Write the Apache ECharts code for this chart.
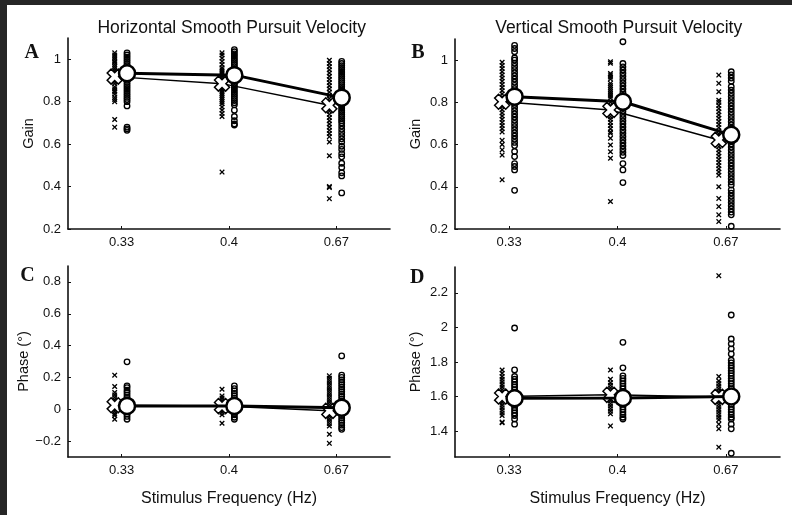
<!DOCTYPE html>
<html><head><meta charset="utf-8">
<script src="https://cdn.jsdelivr.net/npm/echarts@6/dist/echarts.min.js"></script>
<style>html,body{margin:0;padding:0;background:#fff}#c{width:792px;height:515px}</style>
</head><body><div id="c"></div><script>
const categories = ['0.33', '0.4', '0.67'];
const gainTicks = [0.2, 0.4, 0.6, 0.8, 1];
const hPhaseTicks = [-0.2, 0, 0.2, 0.4, 0.6, 0.8];
const vPhaseTicks = [1.4, 1.6, 1.8, 2, 2.2];

// Panel A: horizontal gain
const hGainCross = [
  [1.03,1.02,1.01,1.0,0.99,0.985,0.975,0.965,0.955,0.945,0.935,0.925,0.915,0.905,0.895,0.885,0.87,0.86,0.85,0.845,0.835,0.82,0.81,0.80,0.716,0.68],
  [1.03,1.02,1.005,0.99,0.975,0.96,0.95,0.94,0.93,0.92,0.91,0.9,0.89,0.88,0.87,0.86,0.85,0.84,0.83,0.82,0.81,0.80,0.79,0.775,0.76,0.745,0.73,0.468],
  [0.995,0.98,0.965,0.95,0.935,0.92,0.905,0.89,0.875,0.86,0.845,0.83,0.815,0.80,0.785,0.77,0.755,0.74,0.725,0.71,0.695,0.68,0.665,0.65,0.635,0.61,0.545,0.40,0.395,0.343]
];
const hGainCircle = [
  [1.03,1.02,1.01,1.0,0.99,0.98,0.97,0.96,0.95,0.94,0.93,0.92,0.91,0.90,0.89,0.88,0.87,0.86,0.85,0.84,0.83,0.82,0.81,0.80,0.78,0.68,0.672,0.665],
  [1.045,1.035,1.025,1.015,1.005,0.995,0.985,0.975,0.965,0.955,0.945,0.935,0.925,0.915,0.905,0.895,0.885,0.875,0.865,0.855,0.845,0.835,0.825,0.815,0.805,0.795,0.785,0.76,0.73,0.71,0.695,0.69],
  [0.99,0.98,0.97,0.96,0.95,0.94,0.93,0.92,0.91,0.90,0.89,0.88,0.87,0.86,0.85,0.84,0.83,0.82,0.81,0.80,0.79,0.78,0.77,0.76,0.75,0.74,0.73,0.72,0.71,0.70,0.685,0.67,0.655,0.64,0.625,0.61,0.59,0.575,0.555,0.54,0.51,0.49,0.465,0.45,0.37]
];
const hGainCrossMean = [0.918, 0.885, 0.783];
const hGainCircleMean = [0.934, 0.925, 0.819];

// Panel B: vertical gain
const vGainCross = [
  [0.99,0.975,0.96,0.945,0.93,0.915,0.9,0.885,0.87,0.855,0.84,0.825,0.81,0.795,0.78,0.765,0.75,0.735,0.72,0.705,0.69,0.675,0.66,0.62,0.60,0.575,0.55,0.433],
  [0.992,0.985,0.937,0.93,0.92,0.91,0.89,0.88,0.87,0.86,0.85,0.84,0.83,0.82,0.80,0.785,0.77,0.76,0.745,0.732,0.72,0.705,0.69,0.675,0.66,0.653,0.63,0.598,0.566,0.535,0.33],
  [0.929,0.89,0.85,0.81,0.80,0.785,0.77,0.755,0.74,0.725,0.71,0.695,0.68,0.665,0.65,0.637,0.62,0.605,0.59,0.575,0.56,0.545,0.53,0.515,0.50,0.485,0.47,0.455,0.40,0.345,0.306,0.267,0.235]
];
const vGainCircle = [
  [1.07,1.055,1.04,1.01,1.0,0.985,0.97,0.955,0.94,0.925,0.91,0.895,0.88,0.865,0.85,0.835,0.82,0.805,0.79,0.775,0.76,0.745,0.73,0.715,0.70,0.685,0.67,0.655,0.64,0.625,0.61,0.595,0.567,0.543,0.51,0.496,0.48,0.383],
  [1.087,0.984,0.968,0.953,0.938,0.923,0.908,0.893,0.878,0.863,0.848,0.833,0.818,0.803,0.788,0.773,0.758,0.743,0.728,0.713,0.698,0.683,0.668,0.653,0.638,0.623,0.608,0.593,0.578,0.563,0.548,0.51,0.48,0.42],
  [0.945,0.93,0.915,0.9,0.874,0.858,0.843,0.828,0.813,0.798,0.783,0.768,0.753,0.738,0.723,0.708,0.693,0.678,0.663,0.648,0.633,0.618,0.603,0.588,0.573,0.558,0.543,0.528,0.513,0.498,0.483,0.468,0.453,0.438,0.423,0.408,0.385,0.37,0.355,0.34,0.325,0.31,0.295,0.28,0.267,0.213]
];
const vGainCrossMean = [0.803, 0.764, 0.622];
const vGainCircleMean = [0.827, 0.803, 0.646];

// Panel C: horizontal phase
const hPhaseCross = [
  [0.214,0.143,0.105,0.09,0.075,0.06,0.045,0.03,0.015,0.0,-0.015,-0.03,-0.04,-0.063],
  [0.126,0.084,0.07,0.055,0.04,0.025,0.01,-0.005,-0.02,-0.035,-0.088],
  [0.21,0.195,0.18,0.165,0.15,0.135,0.12,0.105,0.09,0.075,0.06,0.045,0.03,0.015,0.0,-0.015,-0.03,-0.045,-0.06,-0.075,-0.09,-0.105,-0.157,-0.214]
];
const hPhaseCircle = [
  [0.298,0.147,0.136,0.12,0.105,0.09,0.075,0.06,0.045,0.03,0.015,0.0,-0.015,-0.03,-0.045,-0.063],
  [0.147,0.13,0.115,0.1,0.085,0.07,0.055,0.04,0.025,0.01,-0.005,-0.02,-0.035,-0.05,-0.063],
  [0.335,0.214,0.2,0.185,0.17,0.155,0.14,0.125,0.11,0.095,0.08,0.065,0.05,0.035,0.02,0.005,-0.01,-0.025,-0.04,-0.055,-0.07,-0.085,-0.1,-0.115,-0.126]
];
const hPhaseCrossMean = [0.025, 0.02, -0.01];
const hPhaseCircleMean = [0.021, 0.02, 0.01];

// Panel D: vertical phase
const vPhaseCross = [
  [1.754,1.735,1.716,1.70,1.685,1.67,1.655,1.64,1.625,1.61,1.595,1.58,1.565,1.55,1.535,1.52,1.505,1.49,1.452,1.448],
  [1.754,1.70,1.68,1.665,1.65,1.635,1.62,1.605,1.59,1.575,1.56,1.545,1.53,1.515,1.50,1.43],
  [2.30,1.716,1.69,1.675,1.66,1.645,1.63,1.615,1.60,1.585,1.57,1.555,1.54,1.525,1.51,1.495,1.48,1.465,1.44,1.413,1.307]
];
const vPhaseCircle = [
  [1.997,1.754,1.716,1.70,1.685,1.67,1.655,1.64,1.625,1.61,1.595,1.58,1.565,1.55,1.535,1.52,1.505,1.49,1.47,1.44],
  [1.914,1.766,1.72,1.705,1.69,1.675,1.66,1.645,1.63,1.615,1.60,1.585,1.57,1.555,1.54,1.525,1.51,1.495,1.48,1.47],
  [2.072,1.933,1.905,1.876,1.847,1.81,1.795,1.78,1.765,1.75,1.735,1.72,1.705,1.69,1.675,1.66,1.645,1.63,1.615,1.60,1.585,1.57,1.555,1.54,1.525,1.51,1.495,1.48,1.47,1.44,1.413,1.272]
];
const vPhaseCrossMean = [1.60, 1.61, 1.598];
const vPhaseCircleMean = [1.59, 1.592, 1.60];

const FONT = '"Liberation Sans", Arial, Helvetica, sans-serif';
const INK = '#111';
const CROSS_OFF = -0.065, CIRCLE_OFF = 0.05;
const smallX = 'path://M0,1.7 L1.7,0 L5,3.3 L8.3,0 L10,1.7 L6.7,5 L10,8.3 L8.3,10 L5,6.7 L1.7,10 L0,8.3 L3.3,5 Z';
const bigX = 'path://M0,2.6 L2.6,0 L5,2.4 L7.4,0 L10,2.6 L7.6,5 L10,7.4 L7.4,10 L5,7.6 L2.6,10 L0,7.4 L2.4,5 Z';

function fmt(v) {
  const n = +(+v).toFixed(2);
  return (n < 0 ? '\u2212' : '') + String(Math.abs(n));
}

const grids = [
  {left: 68, top: 38, width: 322, height: 191},
  {left: 455, top: 39, width: 325, height: 190},
  {left: 68, top: 266, width: 322, height: 191},
  {left: 455, top: 267, width: 325, height: 190}
];
const yRanges = [[0.2, 1.1, gainTicks, 'Gain'], [0.2, 1.1, gainTicks, 'Gain'],
                 [-0.3, 0.9, hPhaseTicks, 'Phase (°)'], [1.25, 2.35, vPhaseTicks, 'Phase (°)']];
const panels = [
  [hGainCross, hGainCircle, hGainCrossMean, hGainCircleMean],
  [vGainCross, vGainCircle, vGainCrossMean, vGainCircleMean],
  [hPhaseCross, hPhaseCircle, hPhaseCrossMean, hPhaseCircleMean],
  [vPhaseCross, vPhaseCircle, vPhaseCrossMean, vPhaseCircleMean]
];

const xAxes = grids.map((g, i) => ({
  gridIndex: i, type: 'value', min: 0.5, max: 3.5,
  axisLine: {show: true, onZero: false, lineStyle: {color: INK, width: 1.6}},
  axisTick: {show: true, inside: true, length: 3, customValues: [1, 2, 3], lineStyle: {color: INK, width: 1}},
  axisLabel: {customValues: [1, 2, 3], formatter: v => categories[Math.round(v) - 1], color: INK, fontSize: 13, fontFamily: FONT, margin: 7},
  splitLine: {show: false},
  name: i >= 2 ? 'Stimulus Frequency (Hz)' : '',
  nameLocation: 'middle', nameGap: 34,
  nameTextStyle: {color: INK, fontSize: 16, fontFamily: FONT}
}));
const yAxes = grids.map((g, i) => ({
  gridIndex: i, type: 'value', min: yRanges[i][0], max: yRanges[i][1],
  axisLine: {show: true, onZero: false, lineStyle: {color: INK, width: 1.6}},
  axisTick: {show: true, inside: true, length: 3, customValues: yRanges[i][2], lineStyle: {color: INK, width: 1}},
  axisLabel: {customValues: yRanges[i][2], formatter: fmt, color: INK, fontSize: 13, fontFamily: FONT, margin: 7},
  splitLine: {show: false},
  name: yRanges[i][3], nameLocation: 'middle', nameGap: 32,
  nameTextStyle: {color: INK, fontSize: 14.5, fontFamily: FONT}
}));

const series = [];
panels.forEach((p, gi) => {
  const [cross, circ, crossMean, circMean] = p;
  const crossPts = [], circPts = [];
  cross.forEach((list, k) => list.forEach(v => crossPts.push([k + 1 + CROSS_OFF, v])));
  circ.forEach((list, k) => list.forEach(v => circPts.push([k + 1 + CIRCLE_OFF, v])));
  series.push({
    type: 'scatter', xAxisIndex: gi, yAxisIndex: gi, data: crossPts, symbol: smallX, symbolSize: 5.5,
    itemStyle: {color: '#000', opacity: 1}, z: 2, silent: true
  });
  series.push({
    type: 'scatter', xAxisIndex: gi, yAxisIndex: gi, data: circPts, symbol: 'circle', symbolSize: 5.5,
    itemStyle: {color: 'rgba(0,0,0,0)', borderColor: '#000', borderWidth: 1.35, opacity: 1}, z: 2, silent: true
  });
  series.push({
    type: 'line', xAxisIndex: gi, yAxisIndex: gi, data: crossMean.map((v, k) => [k + 1 + CROSS_OFF, v]),
    symbol: bigX, symbolSize: 15, showAllSymbol: true,
    lineStyle: {color: '#000', width: 1.5},
    itemStyle: {color: '#fff', borderColor: '#000', borderWidth: 1.5}, z: 3, silent: true, animation: false
  });
  series.push({
    type: 'line', xAxisIndex: gi, yAxisIndex: gi, data: circMean.map((v, k) => [k + 1 + CIRCLE_OFF, v]),
    symbol: 'circle', symbolSize: 16, showAllSymbol: true,
    lineStyle: {color: '#000', width: 3},
    itemStyle: {color: '#fff', borderColor: '#000', borderWidth: 2.5}, z: 4, silent: true, animation: false
  });
});

const txt = (x, y, text, font, align) => ({
  type: 'text', x: x, y: y, silent: true,
  style: {text: text, font: font, fill: INK, textAlign: align || 'center', textVerticalAlign: 'middle'}
});

const chart = echarts.init(document.getElementById('c'), null, {renderer: 'canvas'});
chart.setOption({
  animation: false,
  backgroundColor: '#fff',
  grid: grids,
  xAxis: xAxes,
  yAxis: yAxes,
  series: series,
  graphic: [
    {type: 'rect', shape: {x: 0, y: 0, width: 7, height: 515}, style: {fill: '#262626'}, silent: true},
    {type: 'rect', shape: {x: 0, y: 0, width: 792, height: 5}, style: {fill: '#262626'}, silent: true},
    txt(231.7, 28.5, 'Horizontal Smooth Pursuit Velocity', '17.5px ' + FONT),
    txt(618.7, 28.5, 'Vertical Smooth Pursuit Velocity', '17.5px ' + FONT),
    txt(31.7, 53, 'A', 'bold 20px "Liberation Serif", "Times New Roman", serif'),
    txt(417.8, 53, 'B', 'bold 20px "Liberation Serif", "Times New Roman", serif'),
    txt(27.5, 275.5, 'C', 'bold 20px "Liberation Serif", "Times New Roman", serif'),
    txt(417.3, 277.8, 'D', 'bold 20px "Liberation Serif", "Times New Roman", serif')
  ]
});
</script></body></html>
